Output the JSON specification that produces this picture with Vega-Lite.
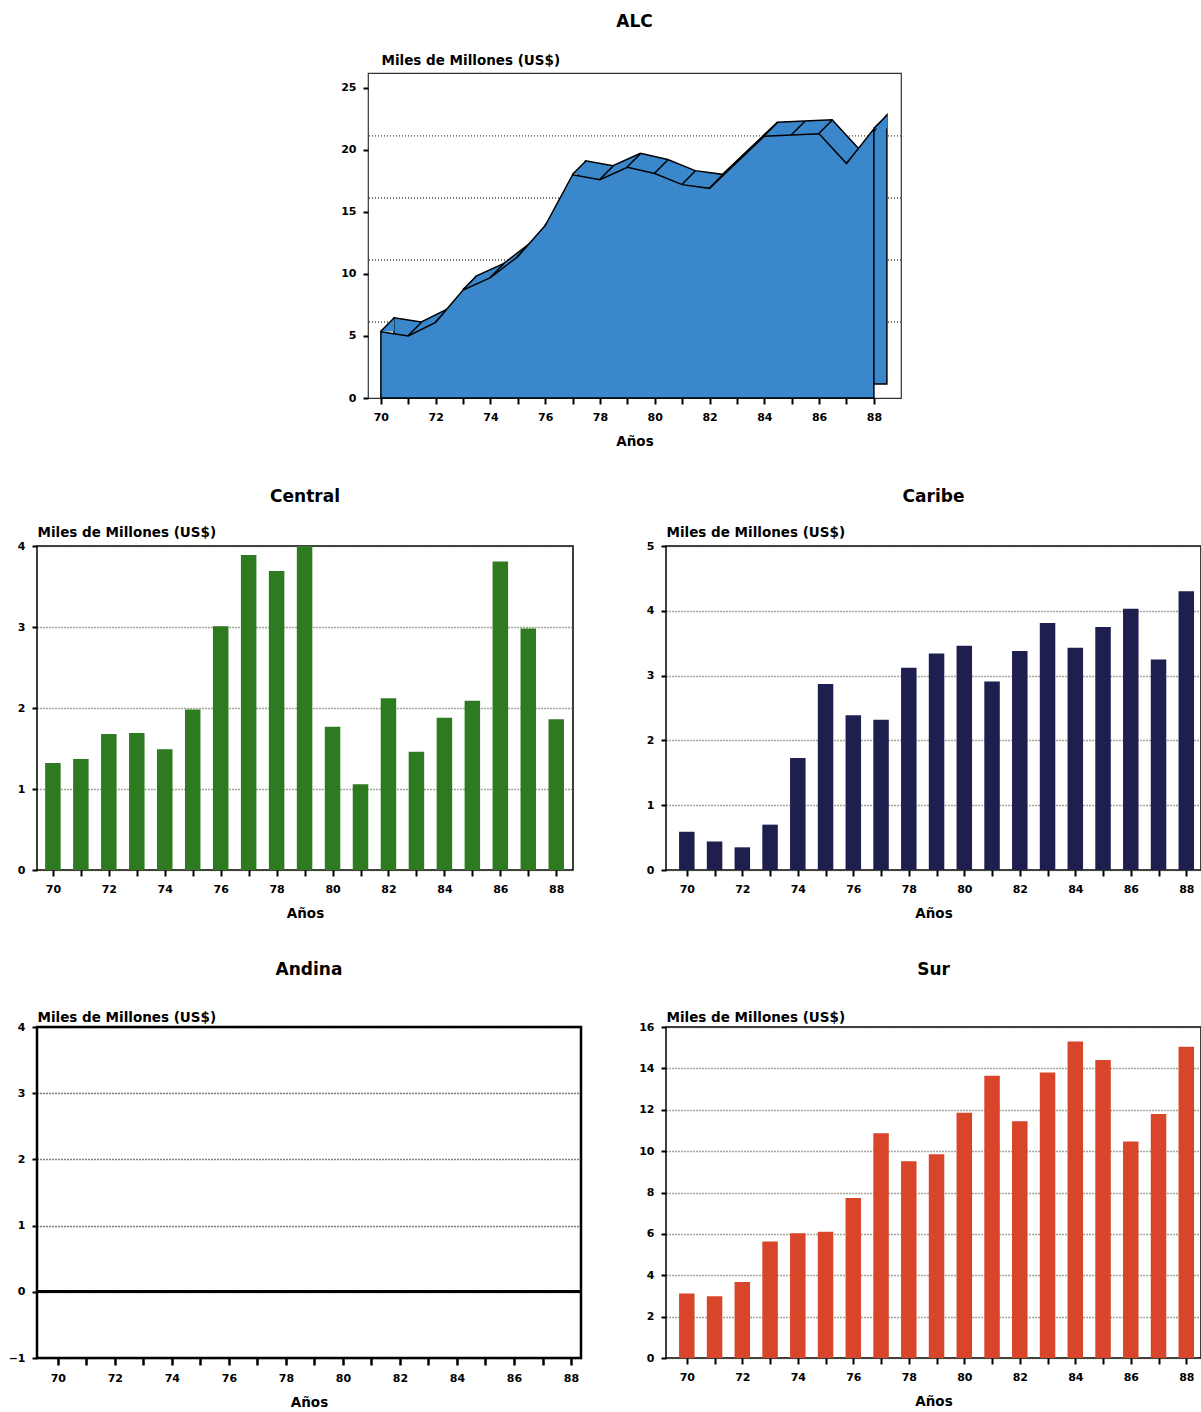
{
  "$schema": "https://vega.github.io/schema/vega-lite/v6.json",
  "padding": {"left": 6, "top": 12, "right": 0, "bottom": 0},
  "background": "white",
  "spacing": 38,
  "config": {
    "font": "DejaVu Sans",
    "view": {"stroke": "black", "strokeWidth": 1.5},
    "axis": {
      "labelFont": "DejaVu Sans", "labelFontWeight": "bold", "labelFontSize": 11, "labelColor": "black",
      "titleFont": "DejaVu Sans", "titleFontWeight": "bold", "titleFontSize": 13.5, "titleColor": "black",
      "tickColor": "black", "tickWidth": 2, "domain": false
    },
    "axisX": {"grid": false, "tickSize": 6, "labelPadding": 7, "titlePadding": 12},
    "axisY": {
      "grid": true, "gridColor": "#4a4a30", "gridDash": [1, 2], "gridWidth": 1.4,
      "tickSize": 5, "labelPadding": 7,
      "titleAngle": 0, "titleAlign": "left", "titleBaseline": "alphabetic", "titleX": 0, "titleY": -9
    },
    "title": {"font": "DejaVu Sans", "fontSize": 17, "fontWeight": "bold", "color": "black", "offset": 19}
  },
  "datasets": {
    "alc": [
      {"year": 70, "value": 5.35}, {"year": 71, "value": 5.0}, {"year": 72, "value": 6.1},
      {"year": 73, "value": 8.7}, {"year": 74, "value": 9.7}, {"year": 75, "value": 11.4},
      {"year": 76, "value": 13.9}, {"year": 77, "value": 18.0}, {"year": 78, "value": 17.6},
      {"year": 79, "value": 18.6}, {"year": 80, "value": 18.1}, {"year": 81, "value": 17.2},
      {"year": 82, "value": 16.9}, {"year": 83, "value": 19.0}, {"year": 84, "value": 21.1},
      {"year": 85, "value": 21.2}, {"year": 86, "value": 21.3}, {"year": 87, "value": 18.9},
      {"year": 88, "value": 21.7}
    ],
    "alcgrid": [{"g": 5}, {"g": 10}, {"g": 15}, {"g": 20}],
    "central": [
      {"year": 70, "value": 1.32}, {"year": 71, "value": 1.37}, {"year": 72, "value": 1.68},
      {"year": 73, "value": 1.69}, {"year": 74, "value": 1.49}, {"year": 75, "value": 1.98},
      {"year": 76, "value": 3.01}, {"year": 77, "value": 3.89}, {"year": 78, "value": 3.69},
      {"year": 79, "value": 4.0}, {"year": 80, "value": 1.77}, {"year": 81, "value": 1.06},
      {"year": 82, "value": 2.12}, {"year": 83, "value": 1.46}, {"year": 84, "value": 1.88},
      {"year": 85, "value": 2.09}, {"year": 86, "value": 3.81}, {"year": 87, "value": 2.98},
      {"year": 88, "value": 1.86}
    ],
    "caribe": [
      {"year": 70, "value": 0.59}, {"year": 71, "value": 0.44}, {"year": 72, "value": 0.35},
      {"year": 73, "value": 0.7}, {"year": 74, "value": 1.73}, {"year": 75, "value": 2.87},
      {"year": 76, "value": 2.39}, {"year": 77, "value": 2.32}, {"year": 78, "value": 3.12},
      {"year": 79, "value": 3.34}, {"year": 80, "value": 3.46}, {"year": 81, "value": 2.91},
      {"year": 82, "value": 3.38}, {"year": 83, "value": 3.81}, {"year": 84, "value": 3.43},
      {"year": 85, "value": 3.75}, {"year": 86, "value": 4.03}, {"year": 87, "value": 3.25},
      {"year": 88, "value": 4.3}
    ],
    "andina": [
      {"year": 70, "value": 0}, {"year": 71, "value": 0}, {"year": 72, "value": 0},
      {"year": 73, "value": 0}, {"year": 74, "value": 0}, {"year": 75, "value": 0},
      {"year": 76, "value": 0}, {"year": 77, "value": 0}, {"year": 78, "value": 0},
      {"year": 79, "value": 0}, {"year": 80, "value": 0}, {"year": 81, "value": 0},
      {"year": 82, "value": 0}, {"year": 83, "value": 0}, {"year": 84, "value": 0},
      {"year": 85, "value": 0}, {"year": 86, "value": 0}, {"year": 87, "value": 0},
      {"year": 88, "value": 0}
    ],
    "sur": [
      {"year": 70, "value": 3.12}, {"year": 71, "value": 2.98}, {"year": 72, "value": 3.67},
      {"year": 73, "value": 5.63}, {"year": 74, "value": 6.03}, {"year": 75, "value": 6.1},
      {"year": 76, "value": 7.74}, {"year": 77, "value": 10.86}, {"year": 78, "value": 9.51},
      {"year": 79, "value": 9.85}, {"year": 80, "value": 11.85}, {"year": 81, "value": 13.64},
      {"year": 82, "value": 11.45}, {"year": 83, "value": 13.8}, {"year": 84, "value": 15.3},
      {"year": 85, "value": 14.4}, {"year": 86, "value": 10.46}, {"year": 87, "value": 11.79},
      {"year": 88, "value": 15.05}
    ]
  },
  "vconcat": [
    {
      "spacing": 0,
      "hconcat": [
        {
          "width": 303, "height": 10,
          "data": {"values": [{"t": ""}]},
          "mark": {"type": "text"},
          "encoding": {"text": {"field": "t", "type": "nominal"}},
          "view": {"stroke": null}
        },
        {
          "title": {"text": "ALC", "offset": 22},
          "width": 533, "height": 325,
          "data": {"name": "alc"},
          "view": {"stroke": "#333", "strokeWidth": 1.2},
          "encoding": {
            "x": {
              "field": "year", "type": "quantitative",
              "scale": {"domain": [69.53, 88.99], "nice": false, "zero": false},
              "axis": {
                "values": [70, 71, 72, 73, 74, 75, 76, 77, 78, 79, 80, 81, 82, 83, 84, 85, 86, 87, 88],
                "labelExpr": "datum.value % 2 === 0 ? datum.label : ''",
                "title": "Años"
              }
            },
            "y": {
              "field": "value", "type": "quantitative",
              "scale": {"domain": [0, 26.2], "nice": false},
              "axis": {"values": [0, 5, 10, 15, 20, 25], "grid": false, "title": "Miles de Millones (US$)", "titleX": 13}
            }
          },
          "layer": [
            {
              "data": {"name": "alcgrid"},
              "mark": {"type": "rule", "color": "#4a4a30", "strokeDash": [1, 2], "strokeWidth": 1.4, "yOffset": -14},
              "encoding": {
                "x": null,
                "y": {
                  "field": "g", "type": "quantitative",
                  "scale": {"domain": [0, 26.2], "nice": false},
                  "axis": {"values": [0, 5, 10, 15, 20, 25], "grid": false, "title": "Miles de Millones (US$)", "titleX": 13}
                }
              }
            },
            {
              "mark": {"type": "area", "color": "#3a87cc", "stroke": "black", "strokeWidth": 1.5, "xOffset": 13, "yOffset": -14}
            },
            {
              "mark": {"type": "point", "shape": "M -1 1 L 1 -1 L 1 1 Z", "size": 185, "filled": true, "color": "#3a87cc", "strokeWidth": 0, "opacity": 1, "xOffset": 6.5, "yOffset": -7}
            },
            {
              "mark": {"type": "point", "shape": "M -1 1 L 1 -1", "size": 185, "filled": false, "stroke": "black", "strokeWidth": 1.5, "opacity": 1, "xOffset": 6.5, "yOffset": -7}
            },
            {
              "mark": {"type": "area", "color": "#3a87cc", "stroke": "black", "strokeWidth": 1.5}
            }
          ]
        }
      ]
    },
    {
      "spacing": 71,
      "hconcat": [
        {
          "title": "Central",
          "width": 536, "height": 324,
          "data": {"name": "central"},
          "mark": {"type": "bar", "width": 15.5, "color": "#2e7a20", "clip": true},
          "encoding": {
            "x": {
              "field": "year", "type": "quantitative",
              "scale": {"domain": [69.61, 88.42], "nice": false, "zero": false},
              "axis": {
                "values": [70, 71, 72, 73, 74, 75, 76, 77, 78, 79, 80, 81, 82, 83, 84, 85, 86, 87, 88],
                "labelExpr": "datum.value % 2 === 0 ? datum.label : ''",
                "title": "Años"
              }
            },
            "y": {
              "field": "value", "type": "quantitative",
              "scale": {"domain": [0, 4], "nice": false},
              "axis": {"values": [0, 1, 2, 3, 4], "title": "Miles de Millones (US$)", "titleY": -10}
            }
          }
        },
        {
          "title": "Caribe",
          "width": 535, "height": 324,
          "data": {"name": "caribe"},
          "mark": {"type": "bar", "width": 15.5, "color": "#1e1f4e", "clip": true},
          "encoding": {
            "x": {
              "field": "year", "type": "quantitative",
              "scale": {"domain": [69.43, 88.35], "nice": false, "zero": false},
              "axis": {
                "values": [70, 71, 72, 73, 74, 75, 76, 77, 78, 79, 80, 81, 82, 83, 84, 85, 86, 87, 88],
                "labelExpr": "datum.value % 2 === 0 ? datum.label : ''",
                "title": "Años"
              }
            },
            "y": {
              "field": "value", "type": "quantitative",
              "scale": {"domain": [0, 5], "nice": false},
              "axis": {"values": [0, 1, 2, 3, 4, 5], "title": "Miles de Millones (US$)", "titleY": -10}
            }
          }
        }
      ]
    },
    {
      "spacing": 53,
      "hconcat": [
        {
          "title": {"text": "Andina", "offset": 31},
          "width": 544, "height": 331,
          "data": {"name": "andina"},
          "view": {"stroke": "black", "strokeWidth": 2.5},
          "encoding": {
            "y": {
              "field": "value", "type": "quantitative",
              "scale": {"domain": [-1, 4], "nice": false, "zero": false},
              "axis": {"values": [-1, 0, 1, 2, 3, 4], "gridColor": "black", "gridDash": [1, 2], "gridWidth": 1.6, "title": "Miles de Millones (US$)", "titleY": -6}
            }
          },
          "layer": [
            {
              "mark": {"type": "rule", "color": "black", "strokeWidth": 2.5}
            },
            {
              "mark": {"type": "line", "color": "black", "strokeWidth": 2.5},
              "encoding": {
                "x": {
                  "field": "year", "type": "quantitative",
                  "scale": {"domain": [69.27, 88.35], "nice": false, "zero": false},
                  "axis": {
                    "values": [70, 71, 72, 73, 74, 75, 76, 77, 78, 79, 80, 81, 82, 83, 84, 85, 86, 87, 88],
                    "labelExpr": "datum.value % 2 === 0 ? datum.label : ''",
                    "title": "Años", "tickWidth": 2.5, "tickSize": 7
                  }
                }
              }
            }
          ]
        },
        {
          "title": {"text": "Sur", "offset": 31},
          "width": 535, "height": 331,
          "data": {"name": "sur"},
          "mark": {"type": "bar", "width": 15.5, "color": "#d9452b", "clip": true},
          "encoding": {
            "x": {
              "field": "year", "type": "quantitative",
              "scale": {"domain": [69.43, 88.35], "nice": false, "zero": false},
              "axis": {
                "values": [70, 71, 72, 73, 74, 75, 76, 77, 78, 79, 80, 81, 82, 83, 84, 85, 86, 87, 88],
                "labelExpr": "datum.value % 2 === 0 ? datum.label : ''",
                "title": "Años"
              }
            },
            "y": {
              "field": "value", "type": "quantitative",
              "scale": {"domain": [0, 16], "nice": false},
              "axis": {"values": [0, 2, 4, 6, 8, 10, 12, 14, 16], "title": "Miles de Millones (US$)", "titleY": -6}
            }
          }
        }
      ]
    }
  ]
}
